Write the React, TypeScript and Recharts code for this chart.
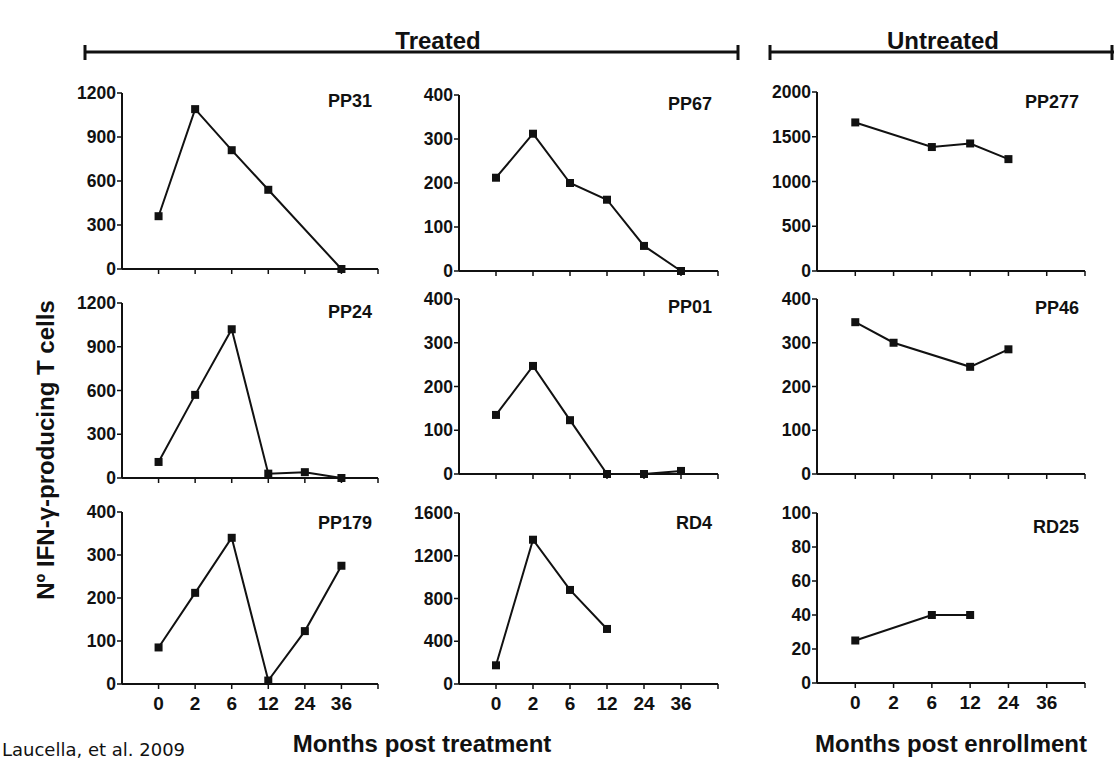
import { Line, LineChart, XAxis, YAxis } from "recharts";

// months after treatment / enrollment; index 1..6 on the axis, 7 is the open end
const months = ["0", "2", "6", "12", "24", "36"];

const pp31 = [360, 1090, 810, 540, null, 0];
const pp67 = [212, 312, 200, 162, 57, 0];
const pp277 = [1660, null, 1385, 1425, 1250, null];
const pp24 = [110, 570, 1020, 30, 40, 0];
const pp01 = [135, 247, 123, 0, 0, 7];
const pp46 = [347, 300, null, 245, 285, null];
const pp179 = [85, 212, 340, 8, 123, 275];
const rd4 = [175, 1350, 880, 515, null, null];
const rd25 = [25, null, 40, 40, null, null];

const ticks1200 = [0, 300, 600, 900, 1200];
const ticks400 = [0, 100, 200, 300, 400];
const ticks2000 = [0, 500, 1000, 1500, 2000];
const ticks1600 = [0, 400, 800, 1200, 1600];
const ticks100 = [0, 20, 40, 60, 80, 100];

const panels = [
  { name: "PP31", values: pp31, ticks: ticks1200 },
  { name: "PP67", values: pp67, ticks: ticks400 },
  { name: "PP277", values: pp277, ticks: ticks2000 },
  { name: "PP24", values: pp24, ticks: ticks1200 },
  { name: "PP01", values: pp01, ticks: ticks400 },
  { name: "PP46", values: pp46, ticks: ticks400 },
  { name: "PP179", values: pp179, ticks: ticks400 },
  { name: "RD4", values: rd4, ticks: ticks1600 },
  { name: "RD25", values: rd25, ticks: ticks100 },
];

// plot box of each panel: left, width, top, bottom, title baseline offset
const boxes = [
  [122, 256, 93, 269, 14],
  [459, 259, 95, 271, 15],
  [817, 268, 92, 271, 16],
  [122, 256, 303, 478, 15],
  [459, 259, 299, 474, 14],
  [817, 268, 299, 474, 15],
  [122, 256, 512, 684, 17],
  [459, 259, 513, 684, 16],
  [817, 268, 513, 683, 20],
];

const INK = "#111";
const FONT = "'Liberation Sans', Arial, Helvetica, sans-serif";

const Square = (props: any) => {
  const { cx, cy, value, index } = props;
  if (value == null || cx == null || cy == null) return <g key={index} />;
  return <rect key={index} x={cx - 4} y={cy - 4} width={8} height={8} fill={INK} />;
};

function Panel({ idx }: { idx: number }) {
  const p = panels[idx];
  const [x0, w, top, bottom] = boxes[idx];
  const showLabels = idx >= 6;
  const data = p.values.map((v, i) => ({ x: i + 1, v }));
  const left = 70;
  const mTop = 12;
  const mRight = 14;
  const xh = 40;
  const width = w + left + mRight;
  const height = bottom - top + mTop + xh;
  const max = p.ticks[p.ticks.length - 1];

  return (
    <div style={{ position: "absolute", left: x0 - left, top: top - mTop }}>
      <LineChart
        width={width}
        height={height}
        data={data}
        margin={{ top: mTop, right: mRight, bottom: 0, left: 0 }}
      >
        <XAxis
          type="number"
          dataKey="x"
          domain={[0, 7]}
          ticks={[1, 2, 3, 4, 5, 6, 7]}
          tickFormatter={(t: number) => (showLabels ? months[t - 1] ?? "" : "")}
          height={xh}
          axisLine={{ stroke: INK, strokeWidth: 2 }}
          tickLine={{ stroke: INK, strokeWidth: 1.5 }}
          tickSize={5}
          tickMargin={8}
          tick={{ fill: INK, fontSize: 19, fontWeight: 700, fontFamily: FONT }}
          allowDataOverflow
        />
        <YAxis
          type="number"
          domain={[0, max]}
          ticks={p.ticks}
          width={left}
          axisLine={{ stroke: INK, strokeWidth: 2 }}
          tickLine={{ stroke: INK, strokeWidth: 1.5 }}
          tickSize={5}
          tickMargin={1}
          tick={{ fill: INK, fontSize: 17.5, fontWeight: 700, fontFamily: FONT }}
          interval={0}
        />
        <Line
          type="linear"
          dataKey="v"
          stroke={INK}
          strokeWidth={2}
          connectNulls
          dot={Square}
          activeDot={false}
          isAnimationActive={false}
        />
      </LineChart>
    </div>
  );
}

export default function App() {
  return (
    <div
      style={{
        position: "absolute",
        left: 0,
        top: 0,
        width: 1114,
        height: 761,
        background: "#fff",
        overflow: "hidden",
        fontFamily: FONT,
      }}
    >
      {panels.map((_, i) => (
        <Panel key={i} idx={i} />
      ))}
      <svg
        width={1114}
        height={761}
        style={{ position: "absolute", left: 0, top: 0, pointerEvents: "none" }}
      >
        {/* group brackets */}
        <g stroke={INK} strokeWidth={3}>
          <line x1={85} y1={52} x2={738} y2={52} />
          <line x1={85} y1={45} x2={85} y2={60} />
          <line x1={738} y1={45} x2={738} y2={60} />
          <line x1={770} y1={52} x2={1114} y2={52} />
          <line x1={770} y1={45} x2={770} y2={60} />
          <line x1={1112} y1={45} x2={1112} y2={60} />
        </g>
        <text x={438} y={49} textAnchor="middle" fontSize={24} fontWeight={700} fill={INK} fontFamily={FONT}>
          Treated
        </text>
        <text x={943} y={49} textAnchor="middle" fontSize={24} fontWeight={700} fill={INK} fontFamily={FONT}>
          Untreated
        </text>

        {panels.map((p, i) => {
          const [x0, w, top, , dy] = boxes[i];
          return (
            <text
              key={p.name}
              x={x0 + w - 6}
              y={top + dy}
              textAnchor="end"
              fontSize={18}
              fontWeight={700}
              fill={INK}
              fontFamily={FONT}
            >
              {p.name}
            </text>
          );
        })}

        <text
          transform="translate(54, 450) rotate(-90)"
          textAnchor="middle"
          fontSize={24}
          fontWeight={700}
          fill={INK}
          fontFamily={FONT}
        >
          Nº IFN-γ-producing T cells
        </text>
        <text x={422} y={752} textAnchor="middle" fontSize={24} fontWeight={700} fill={INK} fontFamily={FONT}>
          Months post treatment
        </text>
        <text x={951} y={752} textAnchor="middle" fontSize={24} fontWeight={700} fill={INK} fontFamily={FONT}>
          Months post enrollment
        </text>
        <text x={2} y={756} fontSize={18} fill={INK} fontFamily="'DejaVu Sans', sans-serif">
          Laucella, et al.  2009
        </text>
      </svg>
    </div>
  );
}
